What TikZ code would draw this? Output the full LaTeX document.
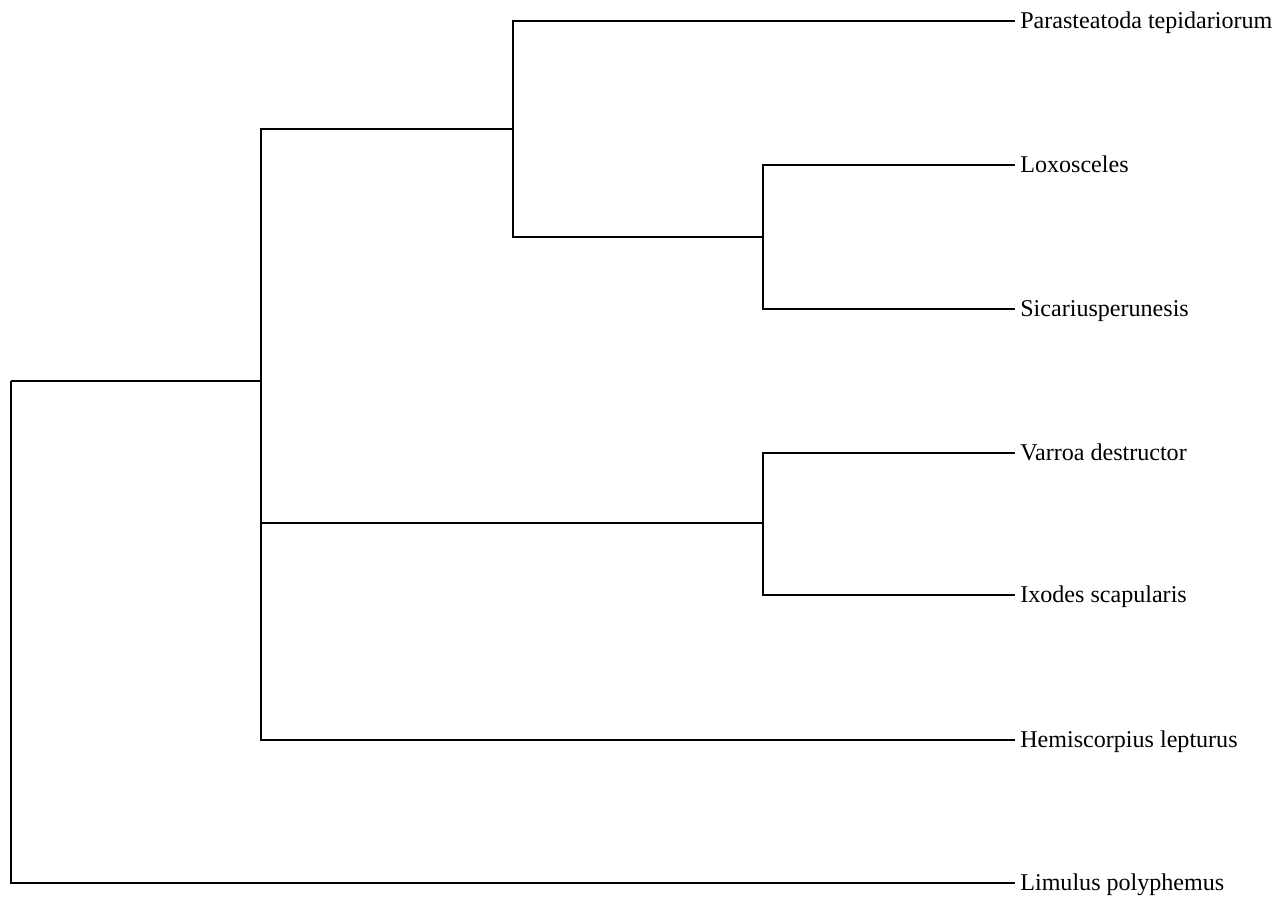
\documentclass[tikz,border=0pt]{standalone}
\usepackage{fontspec}
\setmainfont{Liberation Serif}
\usetikzlibrary{positioning}

\begin{document}
\begin{tikzpicture}[x=0.02cm, y=-0.02cm,
    branch/.style={line width=0.9pt, color=black},
    taxon/.style={anchor=west, inner xsep=0.1cm, inner ysep=0pt, text height=1em, text depth=0.18em, font=\fontsize{13.7}{16}\selectfont}]
    \useasboundingbox (0,0) rectangle (1288,903);
    \coordinate (root) at (11,381);
    \coordinate (arach) at (261,381);
    \coordinate (araneae) at (513,129);
    \coordinate (sicariid) at (763,237);
    \coordinate (acari) at (763,523);
    \node[taxon] (para) at (1015,21) {Parasteatoda tepidariorum};
    \node[taxon] (lox) at (1015,165) {Loxosceles};
    \node[taxon] (sic) at (1015,309) {Sicariusperunesis};
    \node[taxon] (var) at (1015,453) {Varroa destructor};
    \node[taxon] (ixo) at (1015,595) {Ixodes scapularis};
    \node[taxon] (hemi) at (1015,740) {Hemiscorpius lepturus};
    \node[taxon] (lim) at (1015,883) {Limulus polyphemus};
    \draw[branch] (root) |- (arach);
    \draw[branch] (root) |- (lim.west);
    \draw[branch] (arach) |- (araneae);
    \draw[branch] (arach) |- (acari);
    \draw[branch] (arach) |- (hemi.west);
    \draw[branch] (araneae) |- (para.west);
    \draw[branch] (araneae) |- (sicariid);
    \draw[branch] (sicariid) |- (lox.west);
    \draw[branch] (sicariid) |- (sic.west);
    \draw[branch] (acari) |- (var.west);
    \draw[branch] (acari) |- (ixo.west);
  \end{tikzpicture}
\end{document}
